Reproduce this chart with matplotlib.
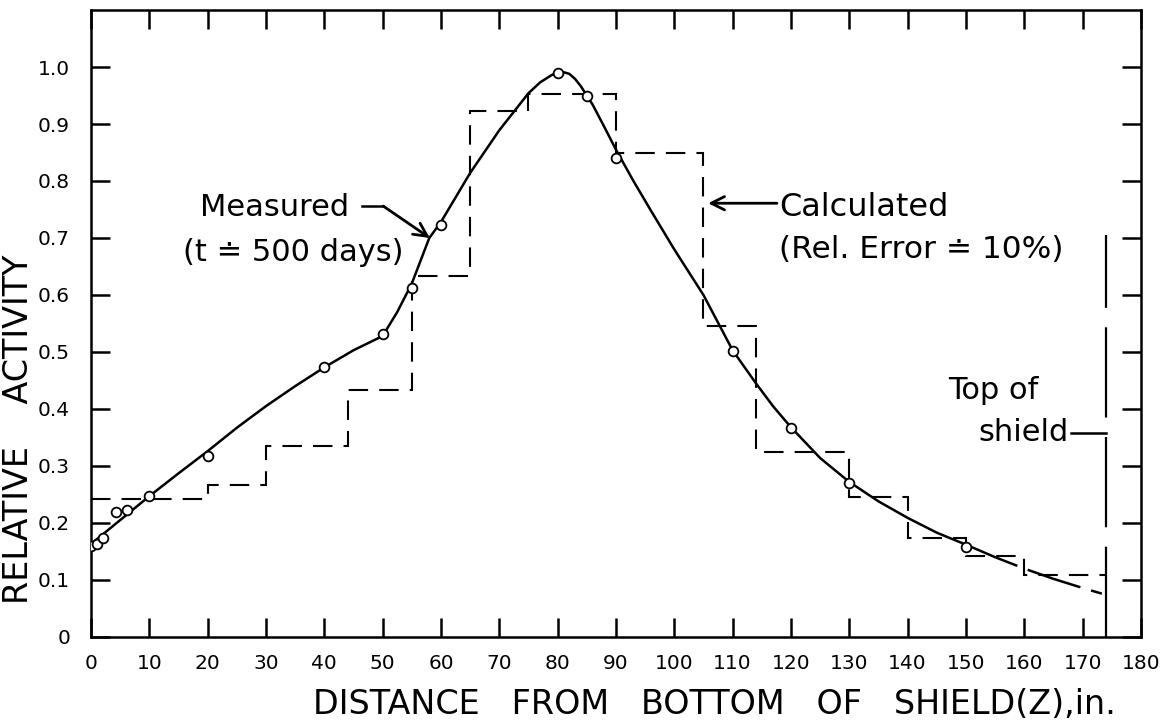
import matplotlib
matplotlib.use("Agg")
import matplotlib.pyplot as plt

plt.rcParams['font.family'] = ['DejaVu Sans']
plt.rcParams['lines.scale_dashes'] = False

# Measured points (open circles)
meas_x = [0, 1, 2, 4.3, 6.2, 10, 20, 40, 50, 55, 60, 80, 85, 90, 110, 120, 130, 150]
meas_y = [0.160, 0.163, 0.174, 0.219, 0.223, 0.247, 0.318, 0.473, 0.532, 0.612,
          0.723, 0.989, 0.949, 0.840, 0.501, 0.367, 0.270, 0.158]

# Measured curve (solid)
curve_x = [0, 5, 10, 15, 20, 25, 30, 35, 40, 45, 50, 52.5, 55, 58, 60, 65, 70, 75,
           77, 79, 80, 81, 82, 83, 84, 86, 88, 90, 93, 96, 100, 105, 110, 114, 117,
           120, 125, 130, 135, 140, 145, 150]
curve_y = [0.163, 0.205, 0.247, 0.287, 0.326, 0.367, 0.405, 0.440, 0.473, 0.503, 0.528,
           0.570, 0.620, 0.700, 0.728, 0.814, 0.889, 0.954, 0.973, 0.986, 0.990, 0.991,
           0.988, 0.979, 0.966, 0.934, 0.895, 0.855, 0.800, 0.748, 0.680, 0.600, 0.503,
           0.445, 0.404, 0.368, 0.314, 0.272, 0.238, 0.209, 0.183, 0.162]

# Extrapolated part of the measured curve (long dashes)
ext_x = [150, 155, 160, 165, 170, 173.3]
ext_y = [0.162, 0.140, 0.120, 0.102, 0.086, 0.076]

# Calculated histogram (dashed steps)
step_edges = [0, 20, 30, 44, 55, 65, 75, 90, 105, 114, 130, 140, 150, 160, 174]
step_vals = [0.242, 0.267, 0.335, 0.433, 0.633, 0.923, 0.953, 0.849, 0.546, 0.324,
             0.246, 0.173, 0.142, 0.109]

# Top of shield marker
shield_x = 174
shield_y = [0.0, 0.705]

x_ticks = list(range(0, 181, 10))
x_labels = [str(v) for v in x_ticks]
y_ticks = [0, 0.1, 0.2, 0.3, 0.4, 0.5, 0.6, 0.7, 0.8, 0.9, 1.0]
y_labels = ["0", "0.1", "0.2", "0.3", "0.4", "0.5", "0.6", "0.7", "0.8", "0.9", "1.0"]

fig = plt.figure(figsize=(11.69, 7.25), dpi=100)
ax = fig.add_axes([0.0778, 0.1214, 0.8982, 0.8648])
ax.set_xlim(0, 180)
ax.set_ylim(0, 1.1)

for s in ax.spines.values():
    s.set_linewidth(1.8)

ax.set_xticks(x_ticks)
ax.set_xticklabels(x_labels)
ax.set_yticks(y_ticks)
ax.set_yticklabels(y_labels)
ax.tick_params(direction='in', length=14, width=1.8, top=True, right=True,
               labelsize=14.5, pad=12)
ax.tick_params(axis='y', pad=15)

# curves
ax.plot(curve_x, curve_y, color='black', lw=1.8, zorder=3)
ax.plot(ext_x, ext_y, color='black', lw=1.8, dashes=(40, 8), zorder=3)
ax.stairs(step_vals, step_edges, baseline=None, color='black', lw=1.5,
          linestyle=(0, (14, 8)), zorder=2)
ax.plot(meas_x, meas_y, linestyle='none', marker='o', markersize=7,
        markerfacecolor='white', markeredgecolor='black', markeredgewidth=1.3, zorder=4)
ax.plot([shield_x, shield_x], shield_y, color='black', lw=1.6, dashes=(65, 14),
        clip_on=False, zorder=2)

# annotations
ax.text(18.7, 0.754, "Measured", fontsize=22, ha='left', va='center')
ax.text(15.8, 0.675, "(t \u2250 500 days)", fontsize=22, ha='left', va='center')
ax.plot([46.5, 50.1], [0.756, 0.756], color='black', lw=1.8)
ax.annotate("", xy=(58.1, 0.70), xytext=(50.1, 0.756),
            arrowprops=dict(arrowstyle='->', color='black', lw=2.0,
                            mutation_scale=24, shrinkA=0, shrinkB=0))

ax.text(118.0, 0.754, "Calculated", fontsize=23, ha='left', va='center')
ax.text(118.0, 0.679, "(Rel. Error \u2250 10%)", fontsize=22.5, ha='left', va='center')
ax.annotate("", xy=(105.8, 0.761), xytext=(117.6, 0.761),
            arrowprops=dict(arrowstyle='->', color='black', lw=2.0,
                            mutation_scale=24, shrinkA=0, shrinkB=0))

ax.text(154.6, 0.433, "Top of", fontsize=22, ha='center', va='center')
ax.text(167.6, 0.358, "shield", fontsize=22, ha='right', va='center')
ax.plot([168.0, 174.0], [0.358, 0.358], color='black', lw=1.8)

ax.text(106.8, -0.118, "DISTANCE   FROM   BOTTOM   OF   SHIELD(Z),in.", fontsize=24,
        ha='center', va='center', clip_on=False)
ax.text(-12.4, 0.365, "RELATIVE    ACTIVITY", fontsize=24, rotation=90,
        ha='center', va='center', clip_on=False)

fig.savefig("out.png", dpi=100)
